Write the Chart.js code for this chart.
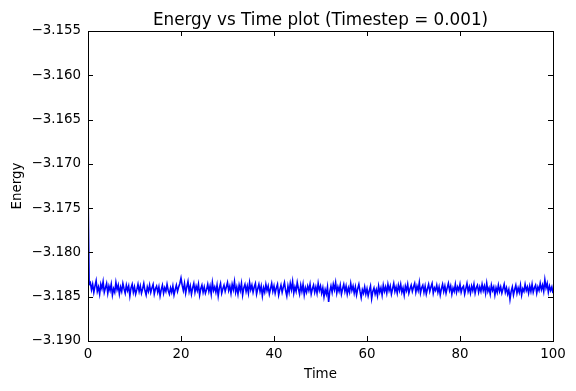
<!DOCTYPE html>
<html>
<head>
<meta charset="utf-8">
<script src="https://cdn.jsdelivr.net/npm/chart.js@4/dist/chart.umd.min.js"></script>
<style>
  body { margin: 0; background: #fff; }
  #wrap { width: 576px; height: 391px; }
</style>
</head>
<body>
<div id="wrap"><canvas id="myChart"></canvas></div>
<script>
var energy = [
  -3.1725, -3.1836, -3.1834, -3.1842, -3.1836, -3.1845, -3.1838, -3.1832, -3.1844, -3.1839,
  -3.1847, -3.1836, -3.1841, -3.1833, -3.1845, -3.1840, -3.1835, -3.1846, -3.1838, -3.1843,
  -3.1836, -3.1848, -3.1841, -3.1845, -3.1834, -3.1842, -3.1837, -3.1847, -3.1839, -3.1844,
  -3.1835, -3.1841, -3.1846, -3.1837, -3.1843, -3.1838, -3.1849, -3.1840, -3.1836, -3.1845,
  -3.1839, -3.1847, -3.1842, -3.1836, -3.1844, -3.1838, -3.1846, -3.1841, -3.1835, -3.1843,
  -3.1848, -3.1839, -3.1844, -3.1837, -3.1845, -3.1840, -3.1836, -3.1847, -3.1841, -3.1838,
  -3.1845, -3.1839, -3.1849, -3.1842, -3.1837, -3.1846, -3.1840, -3.1844, -3.1836, -3.1843,
  -3.1847, -3.1840, -3.1845, -3.1838, -3.1848, -3.1842, -3.1837, -3.1844, -3.1839, -3.1835,
  -3.1829, -3.1837, -3.1843, -3.1835, -3.1846, -3.1839, -3.1833, -3.1844, -3.1838, -3.1847,
  -3.1840, -3.1835, -3.1845, -3.1838, -3.1843, -3.1836, -3.1848, -3.1841, -3.1837, -3.1845,
  -3.1839, -3.1846, -3.1842, -3.1836, -3.1844, -3.1838, -3.1847, -3.1834, -3.1843, -3.1839,
  -3.1845, -3.1837, -3.1849, -3.1840, -3.1835, -3.1846, -3.1841, -3.1837, -3.1844, -3.1839,
  -3.1834, -3.1843, -3.1838, -3.1846, -3.1836, -3.1842, -3.1833, -3.1845, -3.1839, -3.1847,
  -3.1837, -3.1843, -3.1835, -3.1848, -3.1840, -3.1836, -3.1844, -3.1838, -3.1846, -3.1834,
  -3.1842, -3.1837, -3.1845, -3.1839, -3.1835, -3.1847, -3.1841, -3.1836, -3.1844, -3.1838,
  -3.1849, -3.1840, -3.1845, -3.1836, -3.1843, -3.1838, -3.1847, -3.1841, -3.1835, -3.1844,
  -3.1838, -3.1846, -3.1840, -3.1836, -3.1848, -3.1842, -3.1837, -3.1845, -3.1839, -3.1834,
  -3.1843, -3.1849, -3.1838, -3.1845, -3.1835, -3.1842, -3.1833, -3.1846, -3.1839, -3.1844,
  -3.1834, -3.1841, -3.1847, -3.1837, -3.1844, -3.1836, -3.1848, -3.1840, -3.1845, -3.1838,
  -3.1843, -3.1836, -3.1847, -3.1841, -3.1837, -3.1845, -3.1839, -3.1846, -3.1835, -3.1843,
  -3.1838, -3.1846, -3.1840, -3.1850, -3.1842, -3.1847, -3.1839, -3.1856, -3.1844, -3.1838,
  -3.1845, -3.1836, -3.1842, -3.1834, -3.1846, -3.1839, -3.1844, -3.1837, -3.1847, -3.1841,
  -3.1836, -3.1844, -3.1838, -3.1847, -3.1840, -3.1845, -3.1835, -3.1843, -3.1838, -3.1846,
  -3.1839, -3.1848, -3.1841, -3.1836, -3.1844, -3.1851, -3.1842, -3.1846, -3.1839, -3.1847,
  -3.1841, -3.1849, -3.1843, -3.1838, -3.1852, -3.1844, -3.1840, -3.1847, -3.1842, -3.1849,
  -3.1838, -3.1845, -3.1840, -3.1848, -3.1837, -3.1844, -3.1839, -3.1846, -3.1836, -3.1843,
  -3.1838, -3.1847, -3.1841, -3.1835, -3.1844, -3.1839, -3.1846, -3.1837, -3.1843, -3.1836,
  -3.1845, -3.1840, -3.1848, -3.1838, -3.1843, -3.1836, -3.1846, -3.1841, -3.1837, -3.1844,
  -3.1839, -3.1835, -3.1845, -3.1838, -3.1843, -3.1834, -3.1846, -3.1840, -3.1837, -3.1845,
  -3.1838, -3.1847, -3.1841, -3.1836, -3.1844, -3.1839, -3.1835, -3.1846, -3.1840, -3.1843,
  -3.1837, -3.1845, -3.1839, -3.1848, -3.1841, -3.1836, -3.1844, -3.1838, -3.1846, -3.1840,
  -3.1835, -3.1843, -3.1838, -3.1847, -3.1840, -3.1844, -3.1836, -3.1845, -3.1839, -3.1843,
  -3.1836, -3.1845, -3.1840, -3.1838, -3.1847, -3.1841, -3.1835, -3.1844, -3.1839, -3.1846,
  -3.1838, -3.1843, -3.1836, -3.1846, -3.1840, -3.1837, -3.1845, -3.1839, -3.1844, -3.1836,
  -3.1843, -3.1838, -3.1846, -3.1835, -3.1844, -3.1840, -3.1847, -3.1837, -3.1843, -3.1839,
  -3.1848, -3.1840, -3.1845, -3.1837, -3.1844, -3.1839, -3.1846, -3.1841, -3.1836, -3.1845,
  -3.1840, -3.1847, -3.1842, -3.1853, -3.1844, -3.1839, -3.1848, -3.1842, -3.1837, -3.1846,
  -3.1840, -3.1845, -3.1837, -3.1848, -3.1841, -3.1844, -3.1836, -3.1843, -3.1839, -3.1846,
  -3.1838, -3.1844, -3.1836, -3.1845, -3.1840, -3.1837, -3.1846, -3.1839, -3.1843, -3.1835,
  -3.1842, -3.1837, -3.1844, -3.1831, -3.1840, -3.1835, -3.1845, -3.1838, -3.1843, -3.1839,
  -3.1846
];
var sampleStep = 0.25;
var times = energy.map(function (e, i) { return i * sampleStep; });

var chartTitle = 'Energy vs Time plot (Timestep = 0.001)';
var xTicks = [0, 20, 40, 60, 80, 100];
var yTicks = [-3.190, -3.185, -3.180, -3.175, -3.170, -3.165, -3.160, -3.155];

var points = times.map(function (t, i) { return { x: t, y: energy[i] }; });

// matplotlib classic look: title over the axes, full frame, inward ticks on all sides
var frame = {
    id: 'frame',
    afterDraw: function (chart) {
        var c = chart.ctx, a = chart.chartArea;
        var sx = chart.scales.x, sy = chart.scales.y;
        c.save();
        c.strokeStyle = '#000';
        c.lineWidth = 1;
        c.beginPath();
        xTicks.forEach(function (v) {
            var px = Math.round(sx.getPixelForValue(v)) + 0.5;
            c.moveTo(px, a.bottom); c.lineTo(px, a.bottom - 5);
            c.moveTo(px, a.top); c.lineTo(px, a.top + 5);
        });
        yTicks.forEach(function (v) {
            var py = Math.round(sy.getPixelForValue(v)) + 0.5;
            c.moveTo(a.left, py); c.lineTo(a.left + 5, py);
            c.moveTo(a.right, py); c.lineTo(a.right - 5, py);
        });
        c.stroke();
        c.strokeRect(Math.round(a.left) + 0.5, Math.round(a.top) + 0.5,
            Math.round(a.right - a.left), Math.round(a.bottom - a.top));

        c.fillStyle = '#000';
        c.font = '16.8px "DejaVu Sans"';
        c.textAlign = 'center';
        c.textBaseline = 'alphabetic';
        c.fillText(chartTitle, (a.left + a.right) / 2, 25);
        c.restore();
    }
};

var ctx = document.getElementById('myChart');
var myChart = new Chart(ctx, {
    type: 'line',
    data: {
        datasets: [{
            data: points,
            borderColor: '#0000ff',
            borderWidth: 1.6,
            pointRadius: 0,
            fill: false,
            tension: 0
        }]
    },
    options: {
        responsive: true,
        maintainAspectRatio: false,
        animation: false,
        layout: { padding: { left: 0, right: 23, top: 31, bottom: 0 } },
        plugins: {
            legend: { display: false },
            tooltip: { enabled: false },
            title: { display: false }
        },
        scales: {
            x: {
                type: 'linear',
                min: 0,
                max: 100,
                grid: { display: false, drawTicks: false },
                border: { display: false },
                ticks: {
                    stepSize: 20,
                    color: '#000',
                    padding: 5,
                    maxRotation: 0,
                    font: { family: 'DejaVu Sans', size: 13.4 }
                },
                title: {
                    display: true,
                    text: 'Time',
                    color: '#000',
                    font: { family: 'DejaVu Sans', size: 13.4 },
                    padding: { top: 8, bottom: 8 }
                },
                afterFit: function (s) { s.height = 50; }
            },
            y: {
                min: -3.19,
                max: -3.155,
                grid: { display: false, drawTicks: false },
                border: { display: false },
                ticks: {
                    stepSize: 0.005,
                    color: '#000',
                    padding: 7,
                    font: { family: 'DejaVu Sans', size: 13.4 },
                    callback: function (v) { return v.toFixed(3).replace('-', '\u2212'); }
                },
                title: {
                    display: true,
                    text: 'Energy',
                    color: '#000',
                    font: { family: 'DejaVu Sans', size: 13.4 },
                    padding: { top: 9, bottom: 9 }
                },
                afterFit: function (s) { s.width = 88; }
            }
        }
    },
    plugins: [frame]
});
</script>
</body>
</html>
